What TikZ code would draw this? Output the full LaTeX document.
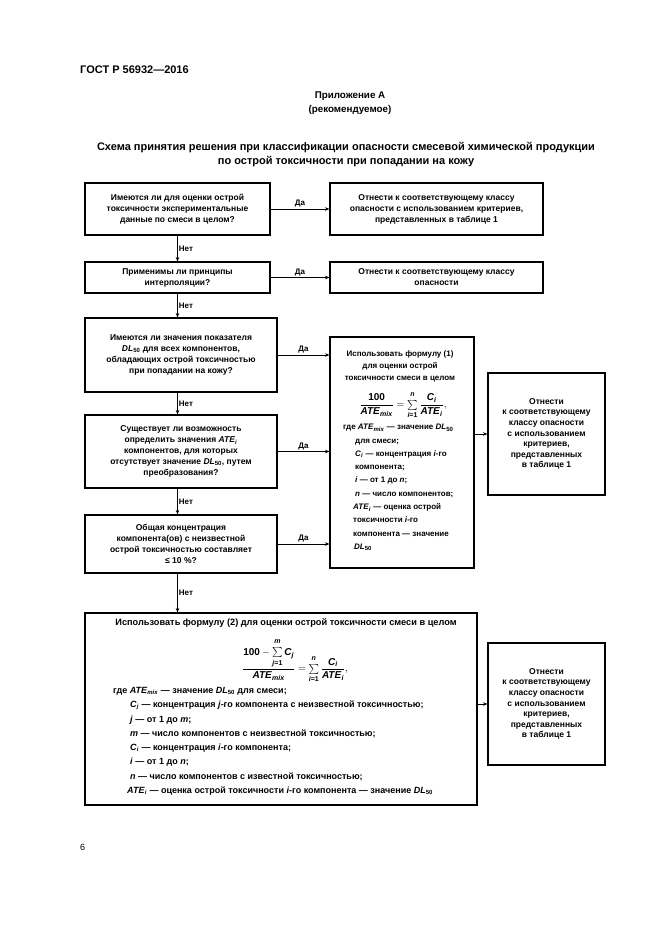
\documentclass[tikz,border=0pt]{standalone}
\usepackage{fontspec}
\usepackage{amsmath}
\setmainfont{Liberation Sans}
\usetikzlibrary{arrows.meta,calc}
\newcommand{\ate}{\textit{ATE}}
\newcommand{\dlf}{\textit{DL}\textsubscript{50}}
\newcommand{\itx}[1]{\textit{#1}}
\newcommand{\bxfont}{\fontsize{8.5}{11}\selectfont\bfseries}
\newcommand{\smallsum}[2]{\mathop{\textstyle\sum}\limits_{\lower1.5pt\hbox{$\scriptstyle #1$}}^{\raise2pt\hbox{$\scriptstyle #2$}}}
\tikzset{
  box/.style={draw, line width=1.1pt, inner sep=2pt, align=center, font=\bxfont},
  arr/.style={line width=0.9pt, -{Stealth[length=4.5pt,width=3.5pt]}},
  lbl/.style={font=\fontsize{8}{9}\selectfont\bfseries, inner sep=1pt},
  txt/.style={font=\bxfont, inner sep=0pt},
  frm/.style={font=\fontsize{10}{12}\selectfont\bfseries, inner sep=0pt},
  res/.style={box, minimum width=117pt, minimum height=122pt, font=\fontsize{8.5}{10.6}\selectfont\bfseries},
}
\begin{document}
\begin{tikzpicture}[x=1pt,y=-1pt]
\useasboundingbox[fill=white] (0,0) rectangle (661,935);
% header
\node[anchor=west, font=\fontsize{11}{12}\selectfont\bfseries, inner sep=0pt] (hdr) at (80,70) {ГОСТ Р 56932—2016};
\node[align=center, font=\fontsize{9.8}{14}\selectfont\bfseries, inner sep=0pt] (app) at (350,103) {Приложение А\\(рекомендуемое)};
\node[align=center, font=\fontsize{11}{14}\selectfont\bfseries, inner sep=0pt] (ttl) at (346,155) {Схема принятия решения при классификации опасности смесевой химической продукции\\по острой токсичности при попадании на кожу};
% decision boxes
\node[box, minimum width=185pt, minimum height=52pt] (b1) at (177.5,209) {Имеются ли для оценки острой\\токсичности экспериментальные\\данные по смеси в целом?};
\node[box, minimum width=213pt, minimum height=52pt] (r1) at (436.5,209) {Отнести к соответствующему классу\\опасности с использованием критериев,\\представленных в таблице 1};
\node[box, minimum width=185pt, minimum height=31pt] (b2) at (177.5,277.5) {Применимы ли принципы\\интерполяции?};
\node[box, minimum width=213pt, minimum height=31pt] (r2) at (436.5,277.5) {Отнести к соответствующему классу\\опасности};
\node[box, minimum width=192pt, minimum height=74pt] (b3) at (181,355) {Имеются ли значения показателя\\\dlf{} для всех компонентов,\\обладающих острой токсичностью\\при попадании на кожу?};
\node[box, minimum width=192pt, minimum height=73pt] (b4) at (181,451.5) {Существует ли возможность\\определить значения \ate\textsubscript{\itx{i}}\\компонентов, для которых\\отсутствует значение \dlf, путем\\преобразования?};
\node[box, minimum width=192pt, minimum height=58pt] (b5) at (181,544) {Общая концентрация\\компонента(ов) с неизвестной\\острой токсичностью составляет\\≤ 10 \%?};
% formula box 1
\node[box, minimum width=144pt, minimum height=231pt] (f1) at (402,452.5) {};
\node[txt, align=center, font=\fontsize{8}{12}\selectfont\bfseries] (f1h) at (400,366) {Использовать формулу (1)\\для оценки острой\\токсичности смеси в целом};
\node[frm] (f1m) at (403,405) {$\displaystyle\frac{\text{100}}{\text{\ate}_{\text{\itshape mix}}}=\smallsum{\text{\itshape i\upshape =1}}{\text{\itshape n}}\frac{\text{\itshape C}_{\text{\itshape i}}}{\text{\ate}_{\text{\itshape i}}},$};
\node[txt, anchor=north west, align=left, font=\fontsize{8}{13.3}\selectfont\bfseries] (f1l) at (343,424) {где \ate\textsubscript{\itx{mix}} — значение \dlf\\
\hspace*{12pt}для смеси;\\
\hspace*{12pt}\itx{C}\textsubscript{\itx{i}} — концентрация \itx{i}-го\\
\hspace*{12pt}компонента;\\
\hspace*{12pt}\itx{i} — от 1 до \itx{n};\\
\hspace*{12pt}\itx{n} — число компонентов;\\
\hspace*{10pt}\ate\textsubscript{\itx{i}} — оценка острой\\
\hspace*{10pt}токсичности \itx{i}-го\\
\hspace*{10pt}компонента — значение\\
\hspace*{11pt}\dlf};
% right result boxes
\node[res] (ra) at (546.5,434) {Отнести\\к соответствующему\\классу опасности\\с использованием\\критериев,\\представленных\\в таблице 1};
% formula box 2
\node[box, minimum width=392pt, minimum height=192pt] (b6) at (281,709) {};
\node[txt, font=\fontsize{9.2}{11}\selectfont\bfseries] (b6h) at (286,623) {Использовать формулу (2) для оценки острой токсичности смеси в целом};
\node[frm] (b6m) at (295,661) {$\displaystyle\frac{\text{100}-\smallsum{\text{\itshape j\upshape =1}}{\text{\itshape m}}\text{\itshape C}_{\text{\itshape j}}}{\text{\ate}_{\text{\itshape mix}}}=\smallsum{\text{\itshape i\upshape =1}}{\text{\itshape n}}\frac{\text{\itshape C}_{\text{\itshape i}}}{\text{\ate}_{\text{\itshape i}}},$};
\node[txt, anchor=north west, align=left, font=\fontsize{9}{14.3}\selectfont\bfseries] (b6l) at (113,687) {где \ate\textsubscript{\itx{mix}} — значение \dlf{} для смеси;\\
\hspace*{17pt}\itx{C}\textsubscript{\itx{j}} — концентрация \itx{j}-го компонента с неизвестной токсичностью;\\
\hspace*{17pt}\itx{j} — от 1 до \itx{m};\\
\hspace*{17pt}\itx{m} — число компонентов с неизвестной токсичностью;\\
\hspace*{17pt}\itx{C}\textsubscript{\itx{i}} — концентрация \itx{i}-го компонента;\\
\hspace*{17pt}\itx{i} — от 1 до \itx{n};\\
\hspace*{17pt}\itx{n} — число компонентов с известной токсичностью;\\
\hspace*{14pt}\ate\textsubscript{\itx{i}} — оценка острой токсичности \itx{i}-го компонента — значение \dlf};
\node[res] (rb) at (546.5,704) {Отнести\\к соответствующему\\классу опасности\\с использованием\\критериев,\\представленных\\в таблице 1};
% page number
\node[anchor=west, font=\fontsize{9}{10}\selectfont, inner sep=0pt] (pg) at (80,847) {6};
% connectors: yes
\draw[arr] (b1.east) -- node[lbl, above] {Да} (r1.west);
\draw[arr] (b2.east) -- node[lbl, above] {Да} (r2.west);
\draw[arr] (b3.east) -- node[lbl, above] {Да} (b3.east -| f1.west);
\draw[arr] (b4.east) -- node[lbl, above] {Да} (b4.east -| f1.west);
\draw[arr] (b5.east) -- node[lbl, above] {Да} (b5.east -| f1.west);
\draw[arr] (ra.west -| f1.east) -- (ra.west);
\draw[arr] (rb.west -| b6.east) -- (rb.west);
% connectors: no
\draw[arr] (b1.south) -- node[lbl, right] {Нет} (b2.north);
\draw[arr] (b2.south) -- node[lbl, right] {Нет} (b2.south |- b3.north);
\draw[arr] (b2.south |- b3.south) -- node[lbl, right] {Нет} (b2.south |- b4.north);
\draw[arr] (b2.south |- b4.south) -- node[lbl, right] {Нет} (b2.south |- b5.north);
\draw[arr] (b2.south |- b5.south) -- node[lbl, right] {Нет} (b2.south |- b6.north);
\end{tikzpicture}
\end{document}
